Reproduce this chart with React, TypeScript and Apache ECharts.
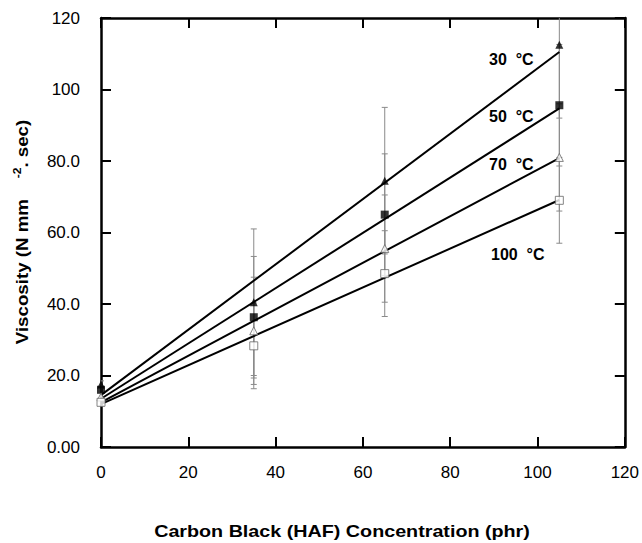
import React, { useEffect, useRef } from "react";
import * as echarts from "echarts";

const concentrations = [0, 35, 65, 105];
const temperatures = ["30  °C", "50  °C", "70  °C", "100  °C"];
const visc30 = [17.5, 40.5, 74.5, 112.5];
const visc50 = [16, 36.3, 65, 95.6];
const visc70 = [14, 32.5, 55.5, 81];
const visc100 = [12.5, 28.3, 48.5, 69];
const err30 = [1, 20.5, 20.5, 20.5];
const err50 = [1, 17, 17, 17];
const err70 = [1, 15, 15, 15];
const err100 = [1, 12, 12, 12];
const fitX = [0, 105];
const fit30 = [14.5, 110.5];
const fit50 = [13.5, 94.7];
const fit70 = [12.5, 80.8];
const fit100 = [12, 69.1];
const xTicks = [0, 20, 40, 60, 80, 100, 120];
const yTickLabels: Record<number, string> = { 0: "0.00", 20: "20.0", 40: "40.0", 60: "60.0", 80: "80.0", 100: "100", 120: "120" };
const xTitle = "Carbon Black (HAF) Concentration (phr)";
const yTitle = "Viscosity (N mm    {sup|-2}. sec)";

const values = [visc30, visc50, visc70, visc100];
const errors = [err30, err50, err70, err100];
const fits = [fit30, fit50, fit70, fit100];
const symbols = ["triangle", "rect", "triangle", "rect"];
const filled = [true, true, false, false];
// label positions in page pixels (left, vertical centre)
const labelPos = [
  [489, 59],
  [489, 116],
  [489, 164],
  [491, 254],
];

export default function App() {
  const ref = useRef<HTMLDivElement>(null);
  useEffect(() => {
    document.body.style.margin = "0";
    document.body.style.overflow = "hidden";
    const chart = echarts.init(ref.current!, null, { renderer: "svg" });
    const font = "Liberation Sans, Arial, sans-serif";
    const series: any[] = [];
    values.forEach((vals, i) => {
      series.push({
        type: "custom",
        name: "err" + i,
        clip: true,
        z: 1,
        data: concentrations.map((c, j) => [c, vals[j] - errors[i][j], vals[j] + errors[i][j]]),
        renderItem: (params: any, api: any) => {
          const lo = api.coord([api.value(0), api.value(1)]);
          const hi = api.coord([api.value(0), api.value(2)]);
          const w = 3;
          const style = { stroke: "#8a8a8a", lineWidth: 1 };
          return {
            type: "group",
            children: [
              { type: "line", shape: { x1: lo[0], y1: lo[1], x2: hi[0], y2: hi[1] }, style },
              { type: "line", shape: { x1: lo[0] - w, y1: lo[1], x2: lo[0] + w, y2: lo[1] }, style },
              { type: "line", shape: { x1: hi[0] - w, y1: hi[1], x2: hi[0] + w, y2: hi[1] }, style },
            ],
          };
        },
      });
    });
    fits.forEach((f, i) => {
      series.push({
        type: "line",
        name: "fit" + i,
        z: 2,
        data: fitX.map((x, j) => [x, f[j]]),
        symbol: "none",
        lineStyle: { color: "#000", width: 2 },
      });
    });
    values.forEach((vals, i) => {
      series.push({
        type: "scatter",
        name: temperatures[i],
        z: 3,
        data: concentrations.map((c, j) => [c, vals[j]]),
        symbol: symbols[i],
        symbolSize: 8,
        itemStyle: filled[i]
          ? { color: "#000" }
          : { color: "#fff", borderColor: "#666", borderWidth: 1 },
      });
    });
    const axisBase = {
      type: "value",
      min: 0,
      max: 120,
      interval: 20,
      splitLine: { show: false },
    };
    chart.setOption({
      animation: false,
      grid: { left: 101, right: 16, top: 18, bottom: 96 },
      xAxis: [
        {
          ...axisBase,
          axisLine: { lineStyle: { color: "#000", width: 2.5 } },
          axisTick: { inside: true, length: 10, lineStyle: { color: "#000", width: 2 } },
          axisLabel: {
            margin: 17,
            color: "#000",
            fontSize: 17,
            fontFamily: font,
            formatter: (v: number) => (xTicks.includes(v) ? String(v) : ""),
          },
        },
        {
          ...axisBase,
          position: "top",
          axisLine: { show: true, onZero: false, lineStyle: { color: "#000", width: 2.5 } },
          axisTick: { show: true, inside: true, length: 10, lineStyle: { color: "#000", width: 2 } },
          axisLabel: { show: false },
        },
      ],
      yAxis: [
        {
          ...axisBase,
          axisLine: { show: true, lineStyle: { color: "#000", width: 2.5 } },
          axisTick: { show: true, inside: true, length: 10, lineStyle: { color: "#000", width: 2 } },
          axisLabel: {
            margin: 21,
            color: "#000",
            fontSize: 17,
            fontFamily: font,
            formatter: (v: number) => yTickLabels[v] ?? "",
          },
        },
        {
          ...axisBase,
          position: "right",
          axisLine: { show: true, onZero: false, lineStyle: { color: "#000", width: 2.5 } },
          axisTick: { show: true, inside: true, length: 10, lineStyle: { color: "#000", width: 2 } },
          axisLabel: { show: false },
        },
      ],
      graphic: [
        ...temperatures.map((t, i) => ({
          type: "text",
          x: labelPos[i][0],
          y: labelPos[i][1],
          z: 10,
          style: { text: t, fill: "#000", font: `bold 16px ${font}`, textVerticalAlign: "middle" },
        })),
        {
          type: "text",
          x: 342,
          y: 531,
          scaleX: 1.16,
          z: 10,
          style: {
            text: xTitle,
            fill: "#000",
            font: `bold 17px ${font}`,
            align: "center",
            verticalAlign: "middle",
          },
        },
        {
          type: "text",
          x: 22,
          y: 232,
          rotation: Math.PI / 2,
          scaleX: 1.1,
          z: 10,
          style: {
            text: yTitle,
            fill: "#000",
            font: `bold 17px ${font}`,
            align: "center",
            verticalAlign: "middle",
            rich: {
              sup: { fontSize: 11, fontWeight: "bold", fontFamily: font, fill: "#000", padding: [0, 0, 10, 0] },
            },
          },
        },
      ],
      series,
    });
    return () => chart.dispose();
  }, []);
  return <div ref={ref} style={{ width: 642, height: 543 }} />;
}
